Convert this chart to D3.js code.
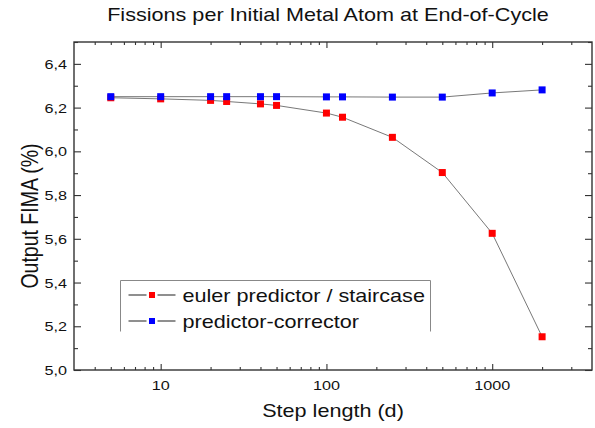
<!DOCTYPE html>
<html>
<head>
<meta charset="utf-8">
<script src="https://cdn.jsdelivr.net/npm/d3@7"></script>
<style>
  body { margin: 0; background: #fff; }
  text { font-family: "Liberation Sans", Arial, sans-serif; fill: #111; }
</style>
</head>
<body>
<div id="chart"></div>
<script>
// step lengths in days and output FIMA (%)
const stepLength = [5, 10, 20, 25, 40, 50, 100, 125, 250, 500, 1000, 2000];
const eulerFima = [6.245, 6.240, 6.233, 6.228, 6.217, 6.210, 6.175, 6.156, 6.064, 5.903, 5.625, 5.152];
const pcFima = [6.250, 6.250, 6.250, 6.250, 6.250, 6.250, 6.249, 6.249, 6.248, 6.248, 6.267, 6.281];
const seriesNames = ["euler predictor / staircase", "predictor-corrector"];
const seriesColors = ["#ff0000", "#0000ff"];
const xTickValues = [10, 100, 1000];
const yTickValues = [5.0, 5.2, 5.4, 5.6, 5.8, 6.0, 6.2, 6.4];

// the picture is stretched sideways a bit, so the text is too
const STRETCH = 1.2;

class FimaChart {

  constructor(parentElement) {
    this.parentElement = parentElement;
    this.initVis();
  }

  initVis() {
    let vis = this;

    vis.margin = { top: 42, right: 3, bottom: 58, left: 74 };
    vis.width = 595 - vis.margin.left - vis.margin.right;
    vis.height = 428 - vis.margin.top - vis.margin.bottom;

    vis.root = d3.select("#" + vis.parentElement)
      .append("svg")
      .attr("width", 595)
      .attr("height", 428);

    vis.svg = vis.root.append("g")
      .attr("transform", "translate(" + vis.margin.left + "," + vis.margin.top + ")");

    vis.x = d3.scaleLog().domain([3, 4000]).range([0, vis.width]);
    vis.y = d3.scaleLinear().domain([5.0, 6.5]).range([vis.height, 0]);

    vis.comma = d3.formatLocale({ decimal: ",", thousands: ".", grouping: [3], currency: ["", ""] }).format(".1f");

    vis.drawAxes();
    vis.drawSeries();
    vis.drawLegend();
    vis.drawTitles();
  }

  drawAxes() {
    let vis = this;

    let xMinor = vis.x.ticks().filter(d => !xTickValues.includes(d) && d > 3 && d < 4000);
    let yMinor = d3.range(5.1, 6.5, 0.2).map(d => Math.round(d * 10) / 10);

    let axes = [
      [d3.axisBottom(vis.x).tickValues(xTickValues).tickSize(-6), "translate(0," + vis.height + ")"],
      [d3.axisBottom(vis.x).tickValues(xMinor).tickSize(-3), "translate(0," + vis.height + ")"],
      [d3.axisTop(vis.x).tickValues(xTickValues).tickSize(-6), null],
      [d3.axisTop(vis.x).tickValues(xMinor).tickSize(-3), null],
      [d3.axisLeft(vis.y).tickValues(yTickValues).tickSize(-7), null],
      [d3.axisLeft(vis.y).tickValues(yMinor).tickSize(-4), null],
      [d3.axisRight(vis.y).tickValues(yTickValues).tickSize(-7), "translate(" + vis.width + ",0)"],
      [d3.axisRight(vis.y).tickValues(yMinor).tickSize(-4), "translate(" + vis.width + ",0)"]
    ];

    axes.forEach(([axis, tr]) => {
      let g = vis.svg.append("g").attr("class", "axis").call(axis.tickFormat(""));
      if (tr) g.attr("transform", tr);
      g.select(".domain").remove();
      g.selectAll("line").attr("stroke", "#333").attr("stroke-width", 1.1);
    });

    // frame
    vis.svg.append("rect")
      .attr("width", vis.width)
      .attr("height", vis.height)
      .attr("fill", "none")
      .attr("stroke", "#333")
      .attr("stroke-width", 1.4);

    // tick labels
    vis.svg.selectAll(".x-label")
      .data(xTickValues)
      .enter()
      .append("text")
      .attr("class", "x-label")
      .attr("text-anchor", "middle")
      .attr("font-size", 13.5)
      .attr("transform", d => "translate(" + vis.x(d) + "," + (vis.height + 20) + ") scale(" + STRETCH + ",1)")
      .text(d => d);

    vis.svg.selectAll(".y-label")
      .data(yTickValues)
      .enter()
      .append("text")
      .attr("class", "y-label")
      .attr("text-anchor", "end")
      .attr("font-size", 13.5)
      .attr("transform", d => "translate(-7," + (vis.y(d) + 5) + ") scale(" + STRETCH + ",1)")
      .text(d => vis.comma(d));
  }

  drawSeries() {
    let vis = this;

    let line = d3.line()
      .x(d => vis.x(d[0]))
      .y(d => vis.y(d[1]));

    let series = [d3.zip(stepLength, eulerFima), d3.zip(stepLength, pcFima)];

    series.forEach(points => {
      vis.svg.append("path")
        .datum(points)
        .attr("fill", "none")
        .attr("stroke", "#555")
        .attr("stroke-width", 0.8)
        .attr("d", line);
    });

    series.forEach((points, i) => {
      vis.svg.selectAll(".marker-" + i)
        .data(points)
        .enter()
        .append("rect")
        .attr("class", "marker-" + i)
        .attr("x", d => vis.x(d[0]) - 3.5)
        .attr("y", d => vis.y(d[1]) - 3.5)
        .attr("width", 7)
        .attr("height", 7)
        .attr("fill", seriesColors[i]);
    });
  }

  drawLegend() {
    let vis = this;

    let lg = vis.svg.append("g")
      .attr("transform", "translate(46.5,238.5)");

    // box is open at the bottom in the figure
    lg.append("path")
      .attr("d", "M0,51V0H310V51")
      .attr("fill", "none")
      .attr("stroke", "#888")
      .attr("stroke-width", 1);

    seriesNames.forEach((name, i) => {
      let cy = 14.5 + i * 26;
      [[8, 26], [37, 55]].forEach(([a, b]) => {
        lg.append("line")
          .attr("x1", a).attr("x2", b)
          .attr("y1", cy).attr("y2", cy)
          .attr("stroke", "#444")
          .attr("stroke-width", 1.2);
      });
      lg.append("rect")
        .attr("x", 28.5).attr("y", cy - 3)
        .attr("width", 6).attr("height", 6)
        .attr("fill", seriesColors[i]);
      lg.append("text")
        .attr("font-size", 18)
        .attr("transform", "translate(62," + (cy + 7) + ") scale(" + STRETCH + ",1)")
        .text(name);
    });
  }

  drawTitles() {
    let vis = this;

    vis.root.append("text")
      .attr("text-anchor", "middle")
      .attr("font-size", 18)
      .attr("transform", "translate(328,21) scale(" + STRETCH + ",1)")
      .text("Fissions per Initial Metal Atom at End-of-Cycle");

    vis.root.append("text")
      .attr("text-anchor", "middle")
      .attr("font-size", 18)
      .attr("transform", "translate(333,417) scale(" + STRETCH + ",1)")
      .text("Step length (d)");

    vis.root.append("text")
      .attr("text-anchor", "middle")
      .attr("font-size", 19.5)
      .attr("transform", "translate(38,216) rotate(-90) scale(1," + STRETCH + ")")
      .text("Output FIMA (%)");
  }
}

new FimaChart("chart");
</script>
</body>
</html>
